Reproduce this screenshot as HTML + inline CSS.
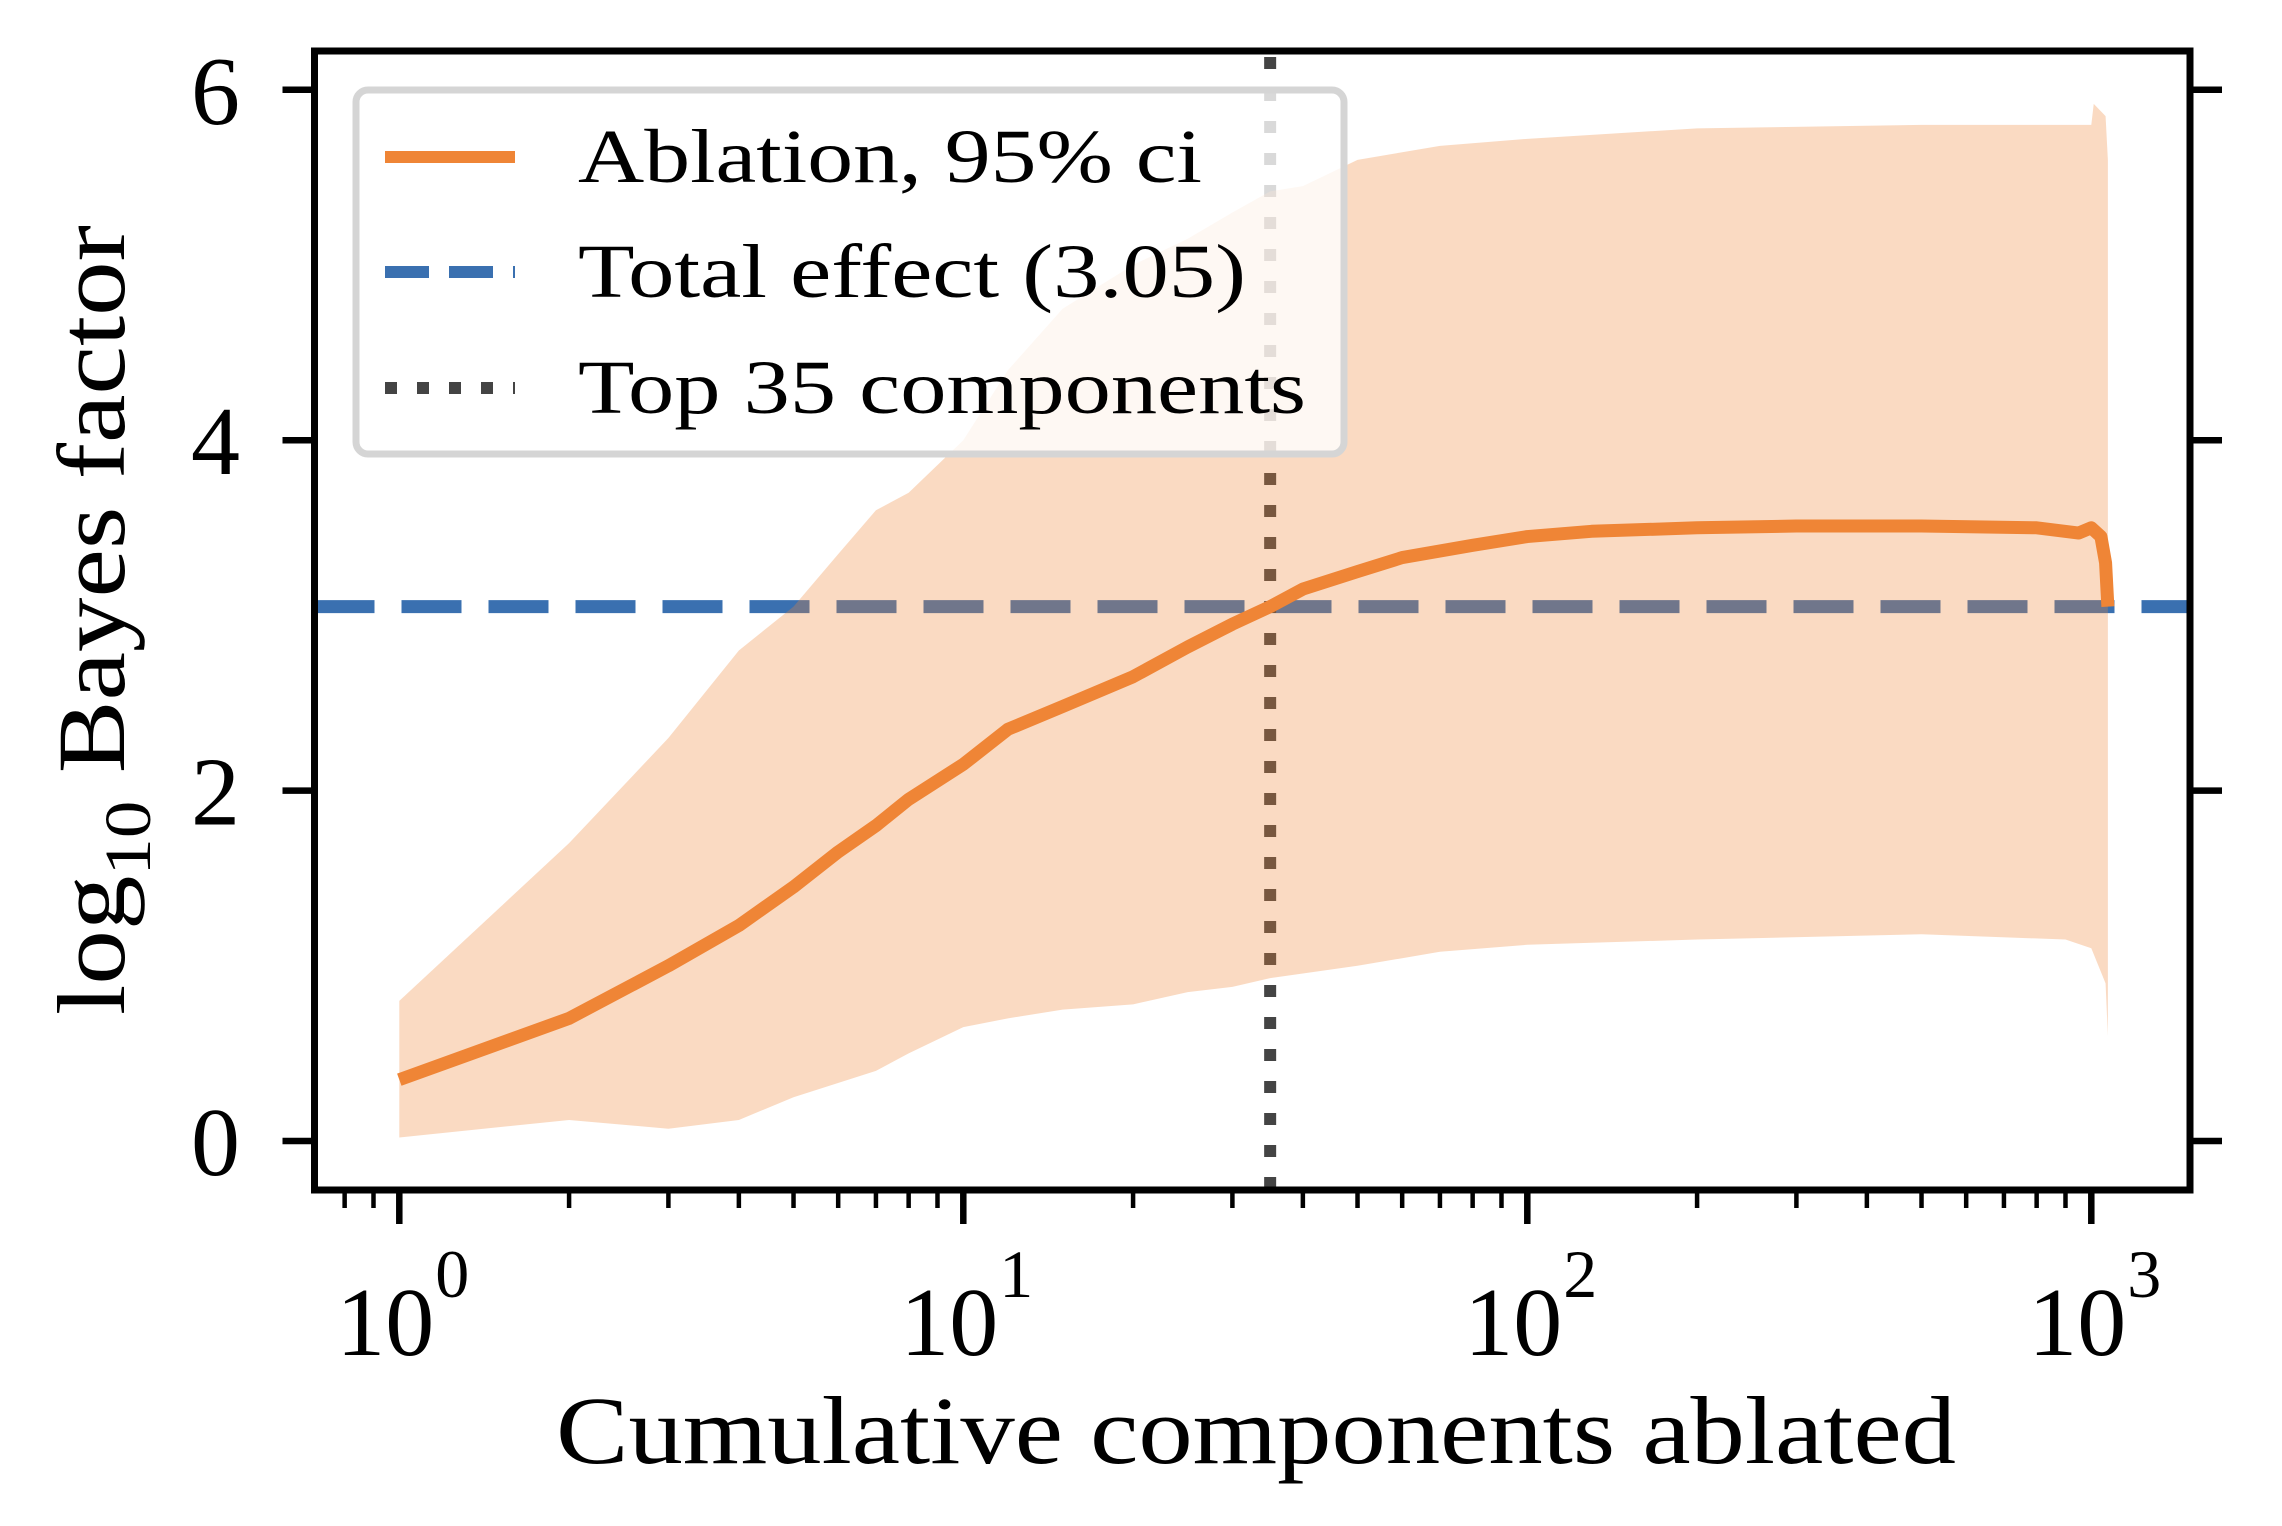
<!DOCTYPE html>
<html><head><meta charset="utf-8"><style>
html,body{margin:0;padding:0;background:#fff;}
svg{display:block;font-family:"Liberation Serif","DejaVu Serif",serif;}
</style></head><body>
<svg id="chart" width="2282" height="1526" viewBox="0 0 2282 1526" xmlns="http://www.w3.org/2000/svg">
<g id="plot"></g>
</svg>
<script>
const meanX = [1,2,3,4,5,6,7,8,10,12,15,20,25,30,35,40,50,60,80,100,130,200,300,500,800,950,1000,1040,1060,1070];
const meanY = [0.35,0.7,1.0,1.23,1.45,1.65,1.8,1.95,2.15,2.35,2.48,2.65,2.82,2.95,3.05,3.15,3.25,3.33,3.4,3.45,3.48,3.5,3.51,3.51,3.5,3.47,3.5,3.45,3.3,3.05];
const upperX = [1,2,3,4,5,6,7,8,10,12,15,20,25,30,35,40,50,70,100,200,500,1000,1010,1060,1070];
const upperY = [0.8,1.7,2.3,2.8,3.05,3.35,3.6,3.7,4.0,4.4,4.75,5.0,5.15,5.3,5.42,5.45,5.6,5.68,5.72,5.78,5.8,5.8,5.92,5.85,5.6];
const lowerX = [1,2,3,4,5,7,8,10,12,15,20,25,30,35,50,70,100,200,500,900,1000,1060,1070];
const lowerY = [0.02,0.12,0.07,0.12,0.25,0.4,0.5,0.65,0.7,0.75,0.78,0.85,0.88,0.93,1.0,1.08,1.12,1.15,1.18,1.15,1.1,0.9,0.6];
const totalEffect = [3.05];
const topK = [35];
const yTicks = [0,2,4,6];
const xTickExps = [0,1,2,3];
const legendLabels = ["Ablation, 95% ci","Total effect (3.05)","Top 35 components"];

const L=314.5,R=2190,T=51,B=1190;
const X0=399.3, DEC=564, Y0=1141, UNIT=175.2;
const xs = v => X0 + Math.log10(v)*DEC;
const ys = v => Y0 - v*UNIT;
const NS="http://www.w3.org/2000/svg";
const g=document.getElementById('plot');
function mk(tag,attrs,parent){const e=document.createElementNS(NS,tag);for(const k in attrs)e.setAttribute(k,attrs[k]);(parent||g).appendChild(e);return e;}

const defs=mk('defs',{});
const cp=mk('clipPath',{id:'clip'},defs);
mk('rect',{x:L,y:T,width:R-L,height:B-T},cp);
const inner=mk('g',{'clip-path':'url(#clip)'});

const hl=mk('line',{x1:L,x2:R,y1:ys(totalEffect[0]),y2:ys(totalEffect[0]),stroke:'#3a70b0','stroke-width':13,'stroke-dasharray':'60 27'},inner);


const vl=mk('line',{x1:xs(topK[0]),x2:xs(topK[0]),y1:T+6,y2:B,stroke:'#444','stroke-width':12,'stroke-dasharray':'12 20'},inner);



let d='M'+upperX.map((x,i)=>xs(x)+','+ys(upperY[i])).join(' L');
for(let i=lowerX.length-1;i>=0;i--) d+=' L'+xs(lowerX[i])+','+ys(lowerY[i]);
d+=' Z';
const band=mk('path',{d:d,fill:'rgba(239,133,54,0.3)'},inner);



const ml=mk('path',{d:'M'+meanX.map((x,i)=>xs(x)+','+ys(meanY[i])).join(' L'),fill:'none',stroke:'#ef8536','stroke-width':13,'stroke-linejoin':'round'},inner);



const fr=mk('rect',{x:L,y:T,width:R-L,height:B-T,fill:'none',stroke:'#000','stroke-width':7});



yTicks.forEach(v=>{
  const y=ys(v);
  mk('line',{x1:L-32,x2:L,y1:y,y2:y,stroke:'#000','stroke-width':6.5});
  mk('line',{x1:R,x2:R+32,y1:y,y2:y,stroke:'#000','stroke-width':6.5});
  const t=mk('text',{x:240,y:y+34,'text-anchor':'end','font-size':98,fill:'#000'});
  t.textContent=v;
  
  
});
xTickExps.forEach(e=>{
  const x=xs(Math.pow(10,e));
  mk('line',{x1:x,x2:x,y1:B,y2:B+34,stroke:'#000','stroke-width':6.5});
  const t=mk('text',{x:x-14,y:1355,'text-anchor':'middle','font-size':98,fill:'#000'});
  t.textContent='10';
  
  
  const s=mk('text',{x:x+36,y:1297,'font-size':68,fill:'#000'});
  s.textContent=e;
});
for(let e=-1;e<=3;e++){for(let m=2;m<=9;m++){const v=m*Math.pow(10,e);const x=xs(v);if(x>L&&x<R)mk('line',{x1:x,x2:x,y1:B,y2:B+18,stroke:'#000','stroke-width':4.5});}}

const xl=mk('text',{x:1256,y:1463,'text-anchor':'middle','font-size':96,fill:'#000',textLength:1400,lengthAdjust:'spacingAndGlyphs'});
xl.textContent='Cumulative components ablated';


const yl=mk('text',{transform:'translate(124,620) rotate(-90)','text-anchor':'middle','font-size':96,fill:'#000',textLength:790,lengthAdjust:'spacingAndGlyphs'});


yl.innerHTML='<tspan>log</tspan><tspan font-size="66" dy="26">10</tspan><tspan dy="-26"> Bayes factor</tspan>';

const lg=mk('g',{});


mk('rect',{x:356,y:90,width:988,height:364,rx:12,fill:'rgba(255,255,255,0.8)',stroke:'#d5d5d5','stroke-width':7},lg);
const rows=[157,272,388];
const styles=[{stroke:'#ef8536',da:'none'},{stroke:'#3a70b0',da:'44 20'},{stroke:'#444',da:'12 20'}];
const widths=[624,668,728];
legendLabels.forEach((lab,i)=>{
  const ln=mk('line',{x1:385,x2:515,y1:rows[i],y2:rows[i],stroke:styles[i].stroke,'stroke-width':12,'stroke-dasharray':styles[i].da},lg);
  
  
  const t=mk('text',{x:578,y:rows[i]+25,'font-size':76,fill:'#000',textLength:widths[i],lengthAdjust:'spacingAndGlyphs'},lg);
  t.textContent=lab;
  
  
});
</script>
</body></html>
